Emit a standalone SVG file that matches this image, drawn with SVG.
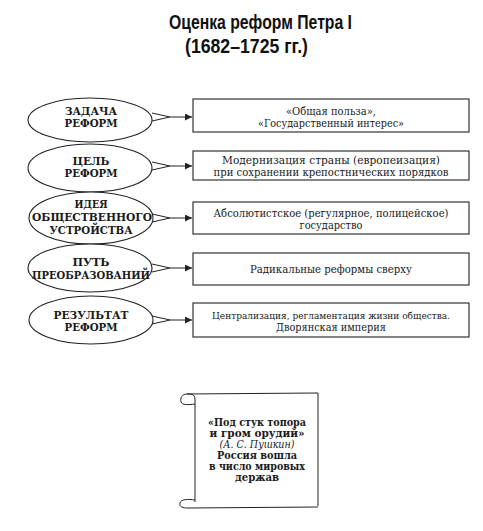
<svg xmlns="http://www.w3.org/2000/svg" width="483" height="531" viewBox="0 0 483 531">
<style>
.bg{fill:#fff}
.shape{fill:#fff;stroke:#222;stroke-width:1.1}
.ln{fill:none;stroke:#222;stroke-width:1}
.et{font-family:"DejaVu Serif","Liberation Serif",serif;font-weight:bold;font-size:11px;fill:#1a1a1a;text-anchor:middle}
.bt{font-family:"DejaVu Serif","Liberation Serif",serif;font-size:10.5px;fill:#1a1a1a;text-anchor:middle}
.sm{font-size:9.5px}
.st{font-family:"DejaVu Serif","Liberation Serif",serif;font-weight:bold;font-size:10.5px;fill:#1a1a1a;text-anchor:middle}
.it{font-family:"DejaVu Serif","Liberation Serif",serif;font-style:italic;font-size:10.5px;fill:#1a1a1a;text-anchor:middle}
.title{font-family:"Liberation Sans","Arial",sans-serif;font-weight:bold;font-size:20px;fill:#111}
</style>
<defs>
<marker id="arr" viewBox="0 0 10 10" refX="10" refY="5" markerWidth="8" markerHeight="7" markerUnits="userSpaceOnUse" orient="auto">
<path d="M0,0 L10,5 L0,10 z" fill="#222"/>
</marker>
</defs>
<rect class="bg" x="0" y="0" width="483" height="531"/>
<g id="title">
<text class="title" x="169" y="29" textLength="183" lengthAdjust="spacingAndGlyphs">Оценка реформ Петра I</text>
<text class="title" x="185" y="53" textLength="123" lengthAdjust="spacingAndGlyphs">(1682–1725 гг.)</text>
</g>
<g id="connectors">
<path class="ln" d="M152,113 L170,117 L152,121"/>
<line class="ln" x1="170" y1="117" x2="192" y2="117" marker-end="url(#arr)"/>
<path class="ln" d="M152,162 L170,166 L152,170"/>
<line class="ln" x1="170" y1="166" x2="192" y2="166" marker-end="url(#arr)"/>
<path class="ln" d="M152,214 L170,218 L152,222"/>
<line class="ln" x1="170" y1="218" x2="192" y2="218" marker-end="url(#arr)"/>
<path class="ln" d="M152,264 L170,268 L152,272"/>
<line class="ln" x1="170" y1="268" x2="192" y2="268" marker-end="url(#arr)"/>
<path class="ln" d="M152,316 L170,320 L152,324"/>
<line class="ln" x1="170" y1="320" x2="192" y2="320" marker-end="url(#arr)"/>
</g>
<g id="e1"><ellipse class="shape" cx="90" cy="120" rx="62" ry="22"/>
<text class="et" x="91" y="115" textLength="52" lengthAdjust="spacingAndGlyphs">ЗАДАЧА</text><text class="et" x="91" y="127" textLength="53" lengthAdjust="spacingAndGlyphs">РЕФОРМ</text></g>
<g id="e2"><ellipse class="shape" cx="90" cy="168" rx="62" ry="24"/>
<text class="et" x="91" y="165" textLength="37" lengthAdjust="spacingAndGlyphs">ЦЕЛЬ</text><text class="et" x="91" y="177" textLength="53" lengthAdjust="spacingAndGlyphs">РЕФОРМ</text></g>
<g id="e3"><ellipse class="shape" cx="91" cy="218" rx="62" ry="26"/>
<text class="et" x="91" y="208" textLength="33" lengthAdjust="spacingAndGlyphs">ИДЕЯ</text><text class="et" x="92" y="221" textLength="120" lengthAdjust="spacingAndGlyphs">ОБЩЕСТВЕННОГО</text><text class="et" x="91" y="234" textLength="83" lengthAdjust="spacingAndGlyphs">УСТРОЙСТВА</text></g>
<g id="e4"><ellipse class="shape" cx="90" cy="268" rx="62" ry="24"/>
<text class="et" x="91" y="266" textLength="37" lengthAdjust="spacingAndGlyphs">ПУТЬ</text><text class="et" x="91" y="279" textLength="118" lengthAdjust="spacingAndGlyphs">ПРЕОБРАЗОВАНИЙ</text></g>
<g id="e5"><ellipse class="shape" cx="91" cy="320" rx="62" ry="24"/>
<text class="et" x="91" y="319" textLength="75" lengthAdjust="spacingAndGlyphs">РЕЗУЛЬТАТ</text><text class="et" x="91" y="331" textLength="53" lengthAdjust="spacingAndGlyphs">РЕФОРМ</text></g>
<g id="b1"><rect class="shape" x="193" y="99" width="276" height="33"/>
<text class="bt" x="331" y="115" textLength="90" lengthAdjust="spacingAndGlyphs">«Общая польза»,</text><text class="bt" x="331" y="127" textLength="146" lengthAdjust="spacingAndGlyphs">«Государственный интерес»</text></g>
<g id="b2"><rect class="shape" x="193" y="151" width="276" height="29"/>
<text class="bt" x="331" y="164" textLength="218" lengthAdjust="spacingAndGlyphs">Модернизация страны (европеизация)</text><text class="bt" x="331" y="176" textLength="235" lengthAdjust="spacingAndGlyphs">при сохранении крепостнических порядков</text></g>
<g id="b3"><rect class="shape" x="193" y="202" width="276" height="32"/>
<text class="bt" x="331" y="217" textLength="235" lengthAdjust="spacingAndGlyphs">Абсолютистское (регулярное, полицейское)</text><text class="bt" x="331" y="229" textLength="63" lengthAdjust="spacingAndGlyphs">государство</text></g>
<g id="b4"><rect class="shape" x="193" y="253" width="276" height="32"/>
<text class="bt" x="331" y="273" textLength="162" lengthAdjust="spacingAndGlyphs">Радикальные реформы сверху</text></g>
<g id="b5"><rect class="shape" x="193" y="303" width="276" height="34"/>
<text class="bt sm" x="331" y="319" textLength="238" lengthAdjust="spacingAndGlyphs">Централизация, регламентация жизни общества.</text><text class="bt" x="331" y="331" textLength="110" lengthAdjust="spacingAndGlyphs">Дворянская империя</text></g>
<g id="scroll">
<path class="ln" d="M195,400 C195,393 190,394 187,394 L318,393 L318,506"/>
<path class="ln" d="M187,394 C182,394 180,398 181,402 C182,405 188,405 195,404"/>
<line class="ln" x1="195" y1="400" x2="195" y2="502"/>
<path class="ln" d="M195,500 C188,499 181,499 180,503 C179,507 183,508 188,508 L318,507"/>
<text class="st" x="257" y="426" textLength="98" lengthAdjust="spacingAndGlyphs">«Под стук топора</text>
<text class="st" x="257" y="437" textLength="95" lengthAdjust="spacingAndGlyphs">и гром орудий»</text>
<text class="it" x="257" y="448" textLength="75" lengthAdjust="spacingAndGlyphs">(А. С. Пушкин)</text>
<text class="st" x="257" y="459" textLength="80" lengthAdjust="spacingAndGlyphs">Россия вошла</text>
<text class="st" x="257" y="470" textLength="96" lengthAdjust="spacingAndGlyphs">в число мировых</text>
<text class="st" x="257" y="481" textLength="44" lengthAdjust="spacingAndGlyphs">держав</text>
</g>
</svg>
